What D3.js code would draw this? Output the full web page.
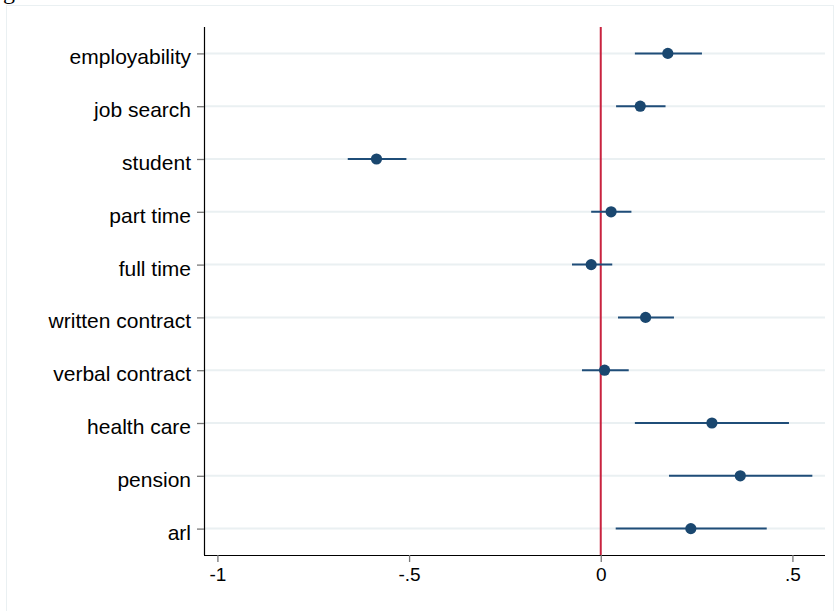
<!DOCTYPE html>
<html>
<head>
<meta charset="utf-8">
<script src="https://cdn.jsdelivr.net/npm/d3@7"></script>
<style>
  html, body { margin: 0; padding: 0; background: #ffffff; }
  svg { display: block; }
</style>
</head>
<body>
<svg id="chart" width="835" height="611"></svg>
<script>
const categories = ["employability", "job search", "student", "part time", "full time",
                    "written contract", "verbal contract", "health care", "pension", "arl"];
const estimates  = [0.175, 0.103, -0.585, 0.027, -0.025, 0.117, 0.010, 0.290, 0.364, 0.235];
const ciLower    = [0.089, 0.040, -0.660, -0.025, -0.075, 0.045, -0.049, 0.089, 0.178, 0.039];
const ciUpper    = [0.264, 0.169, -0.507, 0.080, 0.030, 0.191, 0.073, 0.491, 0.552, 0.433];
const xTickValues = [-1, -0.5, 0, 0.5];
const xTickLabels = ["-1", "-.5", "0", ".5"];
const refValue = 0;

const svg = d3.select("#chart");
const plot = { left: 204, right: 825, top: 27, bottom: 555 };

// outer faint frame
svg.append("rect")
  .attr("x", 6.5).attr("y", 5.5)
  .attr("width", 827).attr("height", 620)
  .attr("fill", "none").attr("stroke", "#eaf0f2").attr("stroke-width", 1);

// cut-off title remnant
svg.append("text")
  .attr("x", 3).attr("y", -1)
  .attr("font-family", "'Liberation Serif', 'DejaVu Serif', serif")
  .attr("font-size", 24).attr("fill", "#000")
  .text("g");

const x = d3.scaleLinear().domain([-1.035, 0.585]).range([plot.left, plot.right]);
const y = d3.scalePoint().domain(categories).range([plot.top, plot.bottom]).padding(0.5);

const data = categories.map((c, i) => ({ c, est: estimates[i], lo: ciLower[i], hi: ciUpper[i] }));

// grid lines
svg.append("g").selectAll("line").data(categories).join("line")
  .attr("x1", plot.left).attr("x2", plot.right)
  .attr("y1", d => y(d)).attr("y2", d => y(d))
  .attr("stroke", "#eaf0f2").attr("stroke-width", 2);

// reference line
svg.append("line")
  .attr("x1", x(refValue)).attr("x2", x(refValue))
  .attr("y1", plot.top).attr("y2", plot.bottom)
  .attr("stroke", "#c8233f").attr("stroke-width", 2);

// CIs
svg.append("g").selectAll("line").data(data).join("line")
  .attr("x1", d => x(d.lo)).attr("x2", d => x(d.hi))
  .attr("y1", d => y(d.c)).attr("y2", d => y(d.c))
  .attr("stroke", "#1f4d78").attr("stroke-width", 2);

// points
svg.append("g").selectAll("circle").data(data).join("circle")
  .attr("cx", d => x(d.est)).attr("cy", d => y(d.c))
  .attr("r", 5.6).attr("fill", "#1a476f");

// y axis
const yAxis = d3.axisLeft(y).tickSize(7).tickPadding(6);
const gy = svg.append("g").attr("transform", `translate(${plot.left},0)`).call(yAxis);
gy.select(".domain").attr("d", `M0.5,${plot.top}V${plot.bottom}`).attr("stroke", "#000").attr("stroke-width", 1.2);
gy.selectAll(".tick line").attr("stroke", "#777").attr("stroke-width", 1.3);
gy.selectAll(".tick text")
  .attr("font-family", "'Liberation Sans', Arial, sans-serif")
  .attr("font-size", 21).attr("fill", "#000")
  .attr("dy", "0.5em");

// x axis
const xAxis = d3.axisBottom(x).tickValues(xTickValues)
  .tickFormat((d, i) => xTickLabels[i]).tickSize(7).tickPadding(6);
const gx = svg.append("g").attr("transform", `translate(0,${plot.bottom})`).call(xAxis);
gx.select(".domain").attr("d", `M${plot.left},0.5H${plot.right}`).attr("stroke", "#000").attr("stroke-width", 1.2);
gx.selectAll(".tick line").attr("stroke", "#777").attr("stroke-width", 1.3);
gx.selectAll(".tick text")
  .attr("font-family", "'Liberation Sans', Arial, sans-serif")
  .attr("font-size", 19).attr("fill", "#000");
</script>
</body>
</html>
